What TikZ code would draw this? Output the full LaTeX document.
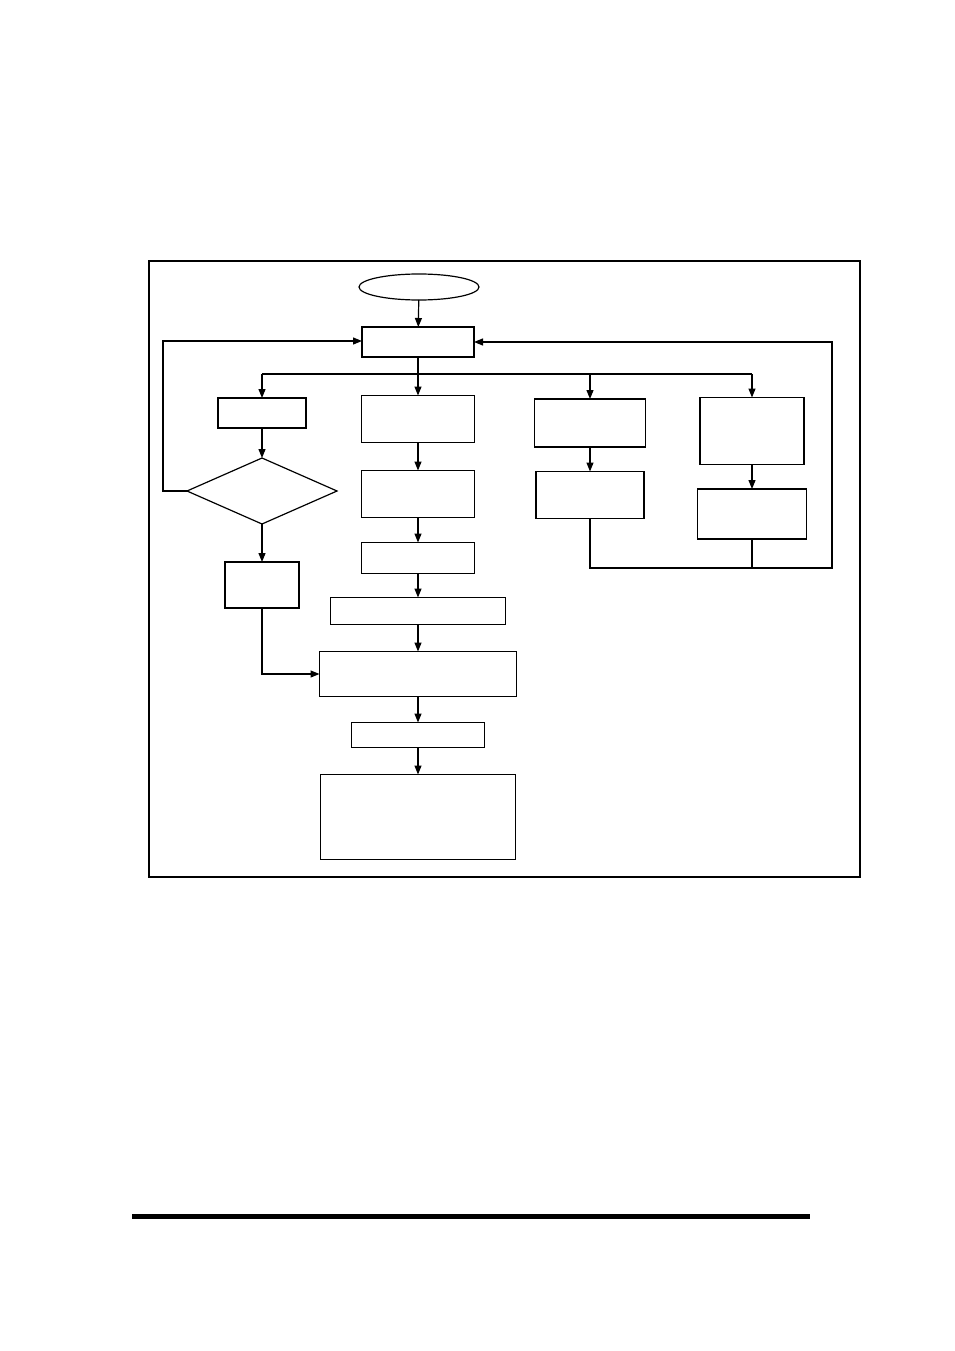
\documentclass[tikz,border=0pt]{standalone}
\usetikzlibrary{arrows.meta,shapes.geometric}

\tikzset{
  box/.style={draw, line width=1.2pt, inner sep=0pt, outer sep=0pt},
  startend/.style={draw, ellipse, line width=1.2pt, inner sep=0pt, outer sep=0pt},
  decision/.style={draw, diamond, line width=1.2pt, inner sep=0pt, outer sep=0pt},
  arr/.style={line width=1.2pt, -{Triangle[length=9pt,width=7pt]}},
  link/.style={line width=1.2pt}
}

\begin{document}
\begin{tikzpicture}[x=1pt, y=1pt, yscale=-1]
    \useasboundingbox (0,0) rectangle (954,1351);

    % Frame round the chart
    \draw[line width=1.8pt] (149,261) rectangle (860,877);

    % Start and main box
    \node[startend, minimum width=120pt, minimum height=26pt] (start) at (419,287) {};
    \node[box, minimum width=112pt, minimum height=30pt] (main) at (418,342) {};

    % Left column
    \node[box, minimum width=88pt, minimum height=30pt] (left1) at (262,413) {};
    \node[decision, minimum width=150pt, minimum height=66pt] (check) at (262,491) {};
    \node[box, minimum width=74pt, minimum height=46pt] (left2) at (262,585) {};

    % Centre column
    \node[box, minimum width=113pt, minimum height=47pt] (mid1) at (418,419) {};
    \node[box, minimum width=113pt, minimum height=47pt] (mid2) at (418,494) {};
    \node[box, minimum width=113pt, minimum height=31pt] (mid3) at (418,558) {};
    \node[box, minimum width=175pt, minimum height=27pt] (mid4) at (418,611) {};
    \node[box, minimum width=197pt, minimum height=45pt] (mid5) at (418,674) {};
    \node[box, minimum width=133pt, minimum height=25pt] (mid6) at (418,735) {};
    \node[box, minimum width=195pt, minimum height=85pt] (mid7) at (418,817) {};

    % Right columns
    \node[box, minimum width=111pt, minimum height=48pt] (right1) at (590,423) {};
    \node[box, minimum width=108pt, minimum height=47pt] (right2) at (590,495) {};
    \node[box, minimum width=104pt, minimum height=67pt] (far1) at (752,431) {};
    \node[box, minimum width=109pt, minimum height=50pt] (far2) at (752,514) {};

    % Bus and loop points
    \coordinate (busL) at (262,374);
    \coordinate (busR) at (752,374);
    \coordinate (loopL) at (163,341);
    \coordinate (loopR) at (832,568);

    % Connectors
    \draw[arr] (start) -- (main);
    \draw[link] (main) -- (main |- busL);
    \draw[link] (busL) -- (busR);
    \draw[arr] (busL) -- (left1);
    \draw[arr] (main |- busL) -- (mid1);
    \draw[arr] (right1 |- busL) -- (right1);
    \draw[arr] (busR) -- (far1);

    \draw[arr] (left1) -- (check);
    \draw[arr] (check) -- (left2);
    \draw[arr] (check.west) -| (loopL) -- (main.west |- loopL);
    \draw[arr] (left2.south) |- (mid5.west);

    \draw[arr] (mid1) -- (mid2);
    \draw[arr] (mid2) -- (mid3);
    \draw[arr] (mid3) -- (mid4);
    \draw[arr] (mid4) -- (mid5);
    \draw[arr] (mid5) -- (mid6);
    \draw[arr] (mid6) -- (mid7);

    \draw[arr] (right1) -- (right2);
    \draw[arr] (far1) -- (far2);
    \draw[arr] (right2.south) |- (loopR) |- (main.east);
    \draw[link] (far2.south) -- (far2.south |- loopR);

    % Rule at the foot of the page
    \coordinate (ruleL) at (132,1216);
    \coordinate (ruleR) at (810,1216);
    \draw[line width=5pt] (ruleL) -- (ruleR);
\end{tikzpicture}
\end{document}
